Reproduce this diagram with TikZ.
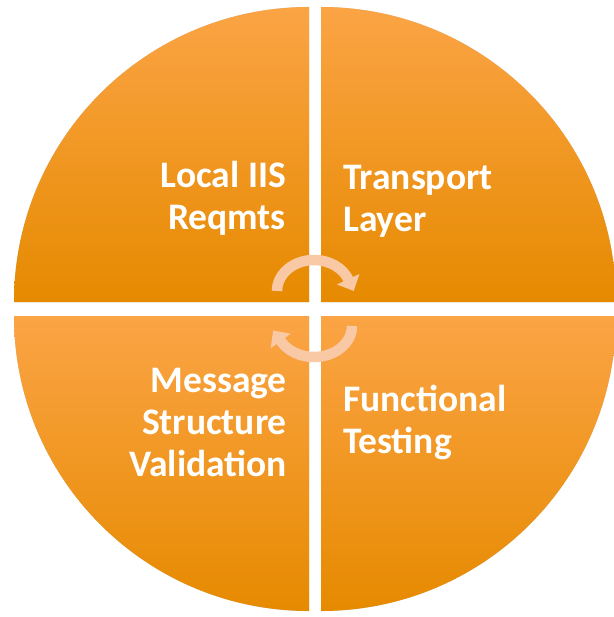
\documentclass[tikz,border=0pt]{standalone}
\usepackage{fontspec}
\setmainfont{Carlito}
\usetikzlibrary{arrows.meta}
\definecolor{qtop}{HTML}{FBA445}
\definecolor{qmid}{HTML}{F8980F}
\definecolor{qbot}{HTML}{E68A00}
\definecolor{peach}{HTML}{F9C8A5}

\tikzset{
  quad/.style={top color=qtop, middle color=qmid, bottom color=qbot, draw=none},
  quadshade/.style={fill=black, opacity=0.22},
  qtext/.style={text=white, inner sep=0pt, font=\bfseries\fontsize{37.5}{42}\selectfont},
  cyc/.style={draw=peach, line width=10.5pt, -{Triangle[width=24pt,length=13pt]}}
}

\begin{document}
\begin{tikzpicture}[x=1pt,y=-1pt]
				\useasboundingbox[fill=white] (0,0) rectangle (613,617);
				\def\R{295}
				\coordinate (c1) at (309,302);
				\coordinate (c2) at (321,302);
				\coordinate (c3) at (309,316);
				\coordinate (c4) at (321,316);
				\coordinate (hubT) at (314,291);
				\coordinate (hubB) at (314,326);
				
				% shadows, then the four quarters
				\foreach \s/\ox/\oy in {quadshade/1.5/2.5,quad/0/0}{
					\begin{scope}[shift={(\ox,\oy)}]
						\path[\s] (c1) -- ++(-\R,0) arc[start angle=180, end angle=270, radius=\R] -- cycle;
						\path[\s] (c2) -- ++(0,-\R) arc[start angle=270, end angle=360, radius=\R] -- cycle;
						\path[\s] (c3) -- ++(-\R,0) arc[start angle=180, end angle=90, radius=\R] -- cycle;
						\path[\s] (c4) -- ++(\R,0) arc[start angle=0, end angle=90, radius=\R] -- cycle;
					\end{scope}}
				
				\draw[cyc] ([shift={(180:37 and 31)}]hubT) arc[start angle=180, end angle=338, x radius=37, y radius=31] -- ++(5.4,11.6);
				\draw[cyc] ([shift={(0:38 and 31)}]hubB) arc[start angle=0, end angle=150, x radius=38, y radius=31] -- ++(-8,-11);
				
				\node[qtext, anchor=north east, align=right] (lir) at (286,161) {Local IIS\\Reqmts};
				\node[qtext, anchor=north west, align=left] (tl) at (343,165) {Transport\\Layer};
				\node[qtext, anchor=north east, align=right] (msv) at (287,368) {Message\\Structure\\Validation};
				\node[qtext, anchor=north west, align=left] (ft) at (343,385) {Functional\\Testing};
			\end{tikzpicture}
\end{document}
